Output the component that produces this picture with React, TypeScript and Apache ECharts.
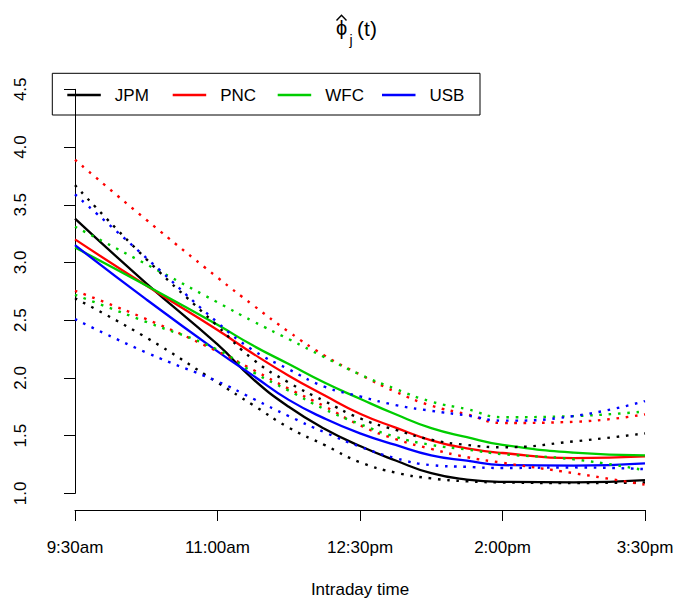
import React, { useEffect, useRef } from "react";
import * as echarts from "echarts";

// minutes after 9:30am
const times = [0, 45, 90, 112.5, 135, 157.5, 180, 202.5, 225, 247.5, 270, 315, 360];
const tickLabels = ["9:30am", "11:00am", "12:30pm", "2:00pm", "3:30pm"];
const banks = ["JPM", "PNC", "WFC", "USB"];
const colors = ["#000000", "#FF0000", "#00CD00", "#0000FF"];

const jpmMean = [3.38, 2.82, 2.29, 1.99, 1.75, 1.56, 1.41, 1.285, 1.175, 1.12, 1.1, 1.095, 1.115];
const jpmUpper = [3.67, 3.03, 2.45, 2.16, 1.96, 1.8, 1.65, 1.55, 1.465, 1.42, 1.4, 1.45, 1.52];
const jpmLower = [2.69, 2.35, 1.96, 1.765, 1.57, 1.42, 1.27, 1.18, 1.13, 1.105, 1.095, 1.09, 1.095];

const pncMean = [3.2, 2.8, 2.415, 2.21, 2.02, 1.85, 1.69, 1.57, 1.46, 1.39, 1.35, 1.305, 1.32];
const pncUpper = [3.89, 3.37, 2.87, 2.63, 2.4, 2.195, 2.03, 1.88, 1.76, 1.685, 1.61, 1.62, 1.685];
const pncLower = [2.755, 2.51, 2.23, 2.07, 1.906, 1.755, 1.59, 1.47, 1.385, 1.314, 1.265, 1.175, 1.075];

const wfcMean = [3.13, 2.8, 2.46, 2.28, 2.12, 1.96, 1.82, 1.685, 1.565, 1.487, 1.42, 1.354, 1.33];
const wfcUpper = [3.31, 2.985, 2.655, 2.49, 2.336, 2.18, 2.03, 1.905, 1.795, 1.73, 1.66, 1.67, 1.71];
const wfcLower = [2.72, 2.485, 2.245, 2.05, 1.89, 1.73, 1.6, 1.49, 1.42, 1.38, 1.34, 1.295, 1.2];

const usbMean = [3.15, 2.68, 2.23, 2.02, 1.81, 1.65, 1.52, 1.42, 1.33, 1.283, 1.245, 1.24, 1.26];
const usbUpper = [3.59, 3.04, 2.48, 2.24, 2.075, 1.925, 1.84, 1.765, 1.715, 1.675, 1.63, 1.67, 1.8];
const usbLower = [2.51, 2.22, 1.97, 1.82, 1.67, 1.53, 1.405, 1.305, 1.245, 1.23, 1.22, 1.225, 1.21];

const means = [jpmMean, pncMean, wfcMean, usbMean];
const uppers = [jpmUpper, pncUpper, wfcUpper, usbUpper];
const lowers = [jpmLower, pncLower, wfcLower, usbLower];

const legendLefts = [67.3, 172.7, 277.7, 382];
const FONT = "Liberation Sans, Arial, Helvetica, sans-serif";

function pairs(vals: number[]) {
  return times.map((t, k) => [t, vals[k]]);
}

export default function App() {
  const ref = useRef<HTMLDivElement>(null);
  useEffect(() => {
    if (!ref.current) return;
    const chart = echarts.init(ref.current, null, { renderer: "svg" });
    const series: any[] = [];
    banks.forEach((b, i) => {
      series.push({
        name: b,
        type: "line",
        data: pairs(means[i]),
        smooth: true,
        symbol: "none",
        lineStyle: { color: colors[i], width: 2.3 },
        itemStyle: { color: colors[i] },
        z: 3,
      });
      [uppers[i], lowers[i]].forEach((arr, j) => {
        series.push({
          name: b + (j === 0 ? " upper" : " lower"),
          type: "line",
          data: pairs(arr),
          smooth: true,
          symbol: "none",
          lineStyle: { color: colors[i], width: 2.4, type: [2.6, 6.7], cap: "butt" },
          itemStyle: { color: colors[i] },
          z: 4,
        });
      });
    });

    const option: any = {
      animation: false,
      backgroundColor: "#ffffff",
      textStyle: { fontFamily: FONT },
      grid: { left: 75, right: 32, top: 89.3, bottom: 101.3, containLabel: false },
      xAxis: {
        type: "value",
        min: 0,
        max: 360,
        interval: 90,
        offset: 16.6,
        name: "Intraday time",
        nameLocation: "middle",
        nameGap: 71,
        nameTextStyle: { fontSize: 17, color: "#000", fontFamily: FONT },
        axisLine: { show: true, lineStyle: { color: "#000", width: 1 } },
        axisTick: { show: true, length: 11, lineStyle: { color: "#000", width: 1 } },
        axisLabel: {
          margin: 28.5,
          fontSize: 17,
          color: "#000",
          fontFamily: FONT,
          formatter: (v: number) => tickLabels[Math.round(v / 90)] ?? "",
        },
        splitLine: { show: false },
      },
      yAxis: {
        type: "value",
        min: 1,
        max: 4.5,
        interval: 0.5,
        offset: 22.7,
        axisLine: { show: true, lineStyle: { color: "#000", width: 1 } },
        axisTick: { show: true, length: 11, lineStyle: { color: "#000", width: 1 } },
        axisLabel: {
          rotate: 90,
          margin: 23,
          fontSize: 17,
          color: "#000",
          fontFamily: FONT,
          formatter: (v: number) => v.toFixed(1),
        },
        splitLine: { show: false },
      },
      legend: banks.map((b, i) => ({
        data: [{ name: b, icon: "rect" }],
        left: legendLefts[i],
        top: 86.5,
        padding: 0,
        itemWidth: 33.5,
        itemHeight: 2.4,
        selectedMode: false,
        textStyle: { fontSize: 17, color: "#000", fontFamily: FONT, padding: [0, 0, 0, 9] },
      })),
      graphic: [
        {
          type: "rect",
          shape: { x: 52.3, y: 73.3, width: 427.7, height: 41.7 },
          style: { fill: "none", stroke: "#000", lineWidth: 1 },
          z: 10,
        },
        {
          type: "text",
          x: 341.5,
          y: 28,
          style: { text: "ϕ", font: `20px ${FONT}`, fill: "#000", align: "center", verticalAlign: "middle" },
        },
        {
          type: "polyline",
          shape: { points: [[336.5, 20.5], [341.5, 15.2], [346.5, 20.5]] },
          style: { stroke: "#000", lineWidth: 1.4, fill: "none" },
        },
        {
          type: "text",
          x: 351,
          y: 39.5,
          style: { text: "j", font: `14px ${FONT}`, fill: "#000", align: "center", verticalAlign: "middle" },
        },
        {
          type: "text",
          x: 367,
          y: 28,
          style: { text: "(t)", font: `21px ${FONT}`, fill: "#000", align: "center", verticalAlign: "middle" },
        },
      ],
      series,
    };
    chart.setOption(option);
    return () => chart.dispose();
  }, []);
  return <div ref={ref} style={{ position: "absolute", left: 0, top: 0, width: 677, height: 603 }} />;
}
